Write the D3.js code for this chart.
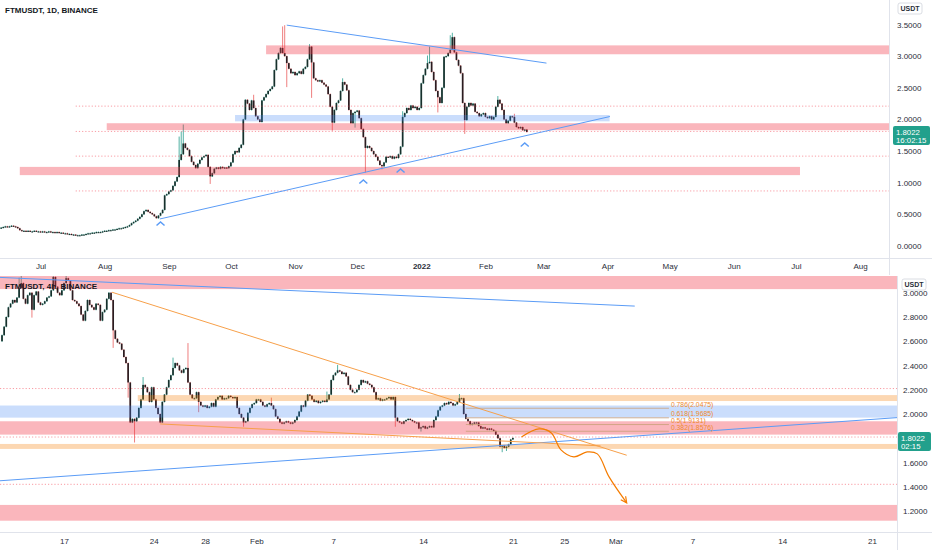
<!DOCTYPE html>
<html>
<head>
<meta charset="utf-8">
<script src="https://cdn.jsdelivr.net/npm/d3@7"></script>
<style>
body{margin:0;background:#fff;}
text{font-family:"Liberation Sans",Arial,sans-serif;}
</style>
</head>
<body>
<svg id="chart" width="932" height="550"></svg>
<script>
// ---- daily candles (top) ----
var dailyStart = "2021-06-11";
var dailyFirstOpen = 0.27;
var dailyClose = [
0.28,0.29,0.30,0.31,0.30,0.31,0.32,0.31,0.30,0.28,
0.25,0.24,0.24,0.23,0.24,0.23,0.23,0.24,0.23,0.23,
0.22,0.23,0.22,0.22,0.23,0.22,0.22,0.21,0.22,0.21,
0.21,0.20,0.20,0.19,0.19,0.18,0.18,0.17,0.17,0.17,
0.18,0.18,0.19,0.20,0.20,0.21,0.21,0.22,0.22,0.22,
0.23,0.24,0.24,0.25,0.25,0.26,0.26,0.27,0.28,0.28,
0.29,0.30,0.31,0.33,0.36,0.38,0.40,0.43,0.46,0.50,
0.55,0.57,0.54,0.52,0.50,0.47,0.44,0.48,0.52,0.57,
0.80,0.82,0.86,0.88,0.95,1.02,1.09,1.36,1.45,1.62,
1.55,1.52,1.42,1.33,1.28,1.23,1.30,1.36,1.40,1.42,
1.44,1.25,1.10,1.15,1.22,1.24,1.22,1.25,1.23,1.24,
1.23,1.26,1.32,1.45,1.50,1.48,1.55,1.60,2.00,2.31,
2.25,2.15,2.30,2.18,2.05,2.00,1.96,2.30,2.35,2.40,
2.45,2.48,2.52,2.78,2.95,3.05,3.13,3.05,3.00,2.89,
2.80,2.73,2.75,2.70,2.73,2.76,2.72,2.80,2.83,2.95,
3.15,2.90,2.65,2.62,2.60,2.62,2.58,2.55,2.52,2.40,
2.20,1.95,2.15,2.26,2.30,2.45,2.59,2.55,2.46,2.15,
1.94,2.10,2.12,2.14,2.02,1.85,1.72,1.55,1.58,1.55,
1.50,1.45,1.41,1.35,1.28,1.26,1.32,1.41,1.40,1.42,
1.38,1.41,1.39,1.45,1.57,2.04,2.10,2.18,2.15,2.22,
2.18,2.20,2.15,2.18,2.57,2.70,2.80,2.89,2.91,2.75,
2.62,2.45,2.35,2.26,2.50,2.99,3.00,3.05,3.10,3.30,
3.06,2.94,2.85,2.73,2.26,1.99,2.20,2.26,2.22,2.25,
2.12,2.10,2.05,2.08,2.10,2.04,2.02,2.05,2.00,2.04,
2.20,2.31,2.25,2.15,2.00,1.94,1.98,2.05,2.04,1.95,
1.88,1.86,1.88,1.83,1.84,1.8022];
var dailyHighs = [[87,1.72],[88,1.80],[89,1.91],[123,2.38],[137,3.46],[138,3.48],[150,3.18],
  [166,2.64],[195,2.12],[207,3.00],[208,3.14],[218,3.32],[219,3.36],[241,2.36],[249,2.08]];
var dailyLows = [[102,0.99],[139,2.52],[151,2.35],[161,1.83],[172,1.88],[177,1.17],[185,1.22],
  [212,2.12],[225,1.78]];

// ---- 4h candles (bottom) ----
var h4Start = "2022-01-12T04:00";
var h4FirstOpen = 2.60;
var h4Close = [
2.65,2.72,2.80,2.88,2.91, 2.94,2.92,2.96,3.04,3.08, 2.95,2.91,2.98,3.00,2.86, 2.98,3.01,2.92,2.90,2.91,
2.93,2.96,2.97,3.02,3.13, 3.05,3.00,2.98,3.02,3.08, 3.12,3.10,3.02,2.94,2.93, 2.91,2.89,2.82,2.77,2.85,
2.94,2.90,2.88,2.86,2.91, 2.90,2.77,2.84,2.86,2.95, 3.00,2.94,2.69,2.62,2.59, 2.58,2.53,2.47,2.42,2.26,
1.93,1.96,1.94,1.97,2.05, 2.12,2.24,2.22,2.18,2.10, 2.22,2.12,2.05,2.00,1.93, 2.10,2.16,2.22,2.28,2.32,
2.38,2.42,2.40,2.36,2.34, 2.37,2.38,2.26,2.16,2.13, 2.13,2.18,2.10,2.07,2.06, 2.07,2.05,2.06,2.09,2.06,
2.12,2.14,2.15,2.12,2.13, 2.13,2.15,2.14,2.13,2.14, 2.05,2.00,1.97,1.93,1.94, 2.01,2.05,2.08,2.09,2.12,
2.12,2.10,2.07,2.06,2.08, 2.09,2.07,2.04,1.98,1.96, 1.93,1.92,1.93,1.94,1.93, 1.92,1.93,1.95,1.98,2.02,
2.07,2.06,2.11,2.16,2.15, 2.12,2.10,2.11,2.09,2.10, 2.11,2.10,2.12,2.16,2.28, 2.32,2.34,2.36,2.35,2.33,
2.34,2.31,2.24,2.20,2.18, 2.18,2.20,2.24,2.28,2.26, 2.27,2.25,2.24,2.22,2.18, 2.12,2.13,2.11,2.12,2.12,
2.13,2.14,2.12,2.14,1.97, 1.94,1.93,1.92,1.94,1.95, 1.96,1.95,1.94,1.93,1.93, 1.88,1.89,1.90,1.88,1.89,
1.90,1.89,1.95,1.98,2.03, 2.06,2.07,2.09,2.08,2.10, 2.09,2.07,2.08,2.10,2.13, 2.13,2.00,1.96,1.94,1.91,
1.92,1.93,1.93,1.90,1.88, 1.89,1.88,1.87,1.88,1.87, 1.86,1.83,1.80,1.73,1.74, 1.72,1.73,1.75,1.79,1.8022];
var h4Highs = [[8,3.12],[9,3.14],[24,3.16],[30,3.18],[66,2.30],[80,2.46],[87,2.58],[126,2.13],
  [152,2.18],[157,2.40],[214,2.16]];
var h4Lows = [[14,2.80],[52,2.55],[59,2.14],[62,1.77],[92,2.02],[113,1.90],[184,1.90],[196,1.86],
  [234,1.69],[236,1.70]];

// ---- zones and levels (shared by both panels) ----
var bandFrom = ["2021-10-18","2021-08-02","2021-10-03","2021-06-21"];
var bandTo   = [null,        null,        "2022-04-02","2022-07-03"];
var bandLow  = [3.03, 1.83, 1.97, 1.12];
var bandHigh = [3.17, 1.94, 2.07, 1.25];
var bandKind = ["red","red","blue","red"];
var dottedFrom = "2021-07-18";
var dottedLevels = [2.21, 1.81, 1.42, 0.87];
var peachFrom = ["2022-01-22T18:00", null];
var peachLow  = [2.107, 1.712];
var peachHigh = [2.156, 1.753];

// trend lines [date, price]
var blueLines = [
  [["2021-10-28", 3.49], ["2022-03-02T12:00", 2.89]],
  [["2021-08-27T16:00", 0.427], ["2022-04-02T04:00", 2.046]]
];
var orangeLines = [
  [["2022-01-20T18:00", 3.004], ["2022-03-01T21:00", 1.66]],
  [["2022-01-24T12:00", 1.918], ["2022-02-27T20:00", 1.737]]
];
var markerDates = ["2021-08-28","2021-12-04","2021-12-22","2022-02-20"];
var markerPrices = [0.379, 1.043, 1.217, 1.627];

var fibLevels = [0.786, 0.618, 0.5, 0.382];
var fibPrices = [2.0475, 1.9685, 1.9131, 1.8576];
var fibStart = "2022-02-17T08:00", fibEnd = "2022-03-05T04:00";

var arrowTimes = ["2022-02-21T16:00","2022-02-23T01:00","2022-02-24T00:00","2022-02-24T18:00",
  "2022-02-25T18:00","2022-02-26T19:00","2022-02-27T14:00","2022-02-28T12:00","2022-03-01T21:00"];
var arrowPrices = [1.811, 1.877, 1.844, 1.704, 1.646, 1.687, 1.671, 1.481, 1.267];

var topTicks = [0, 0.5, 1, 1.5, 2, 2.5, 3, 3.5];
var botTicks = [1.2, 1.4, 1.6, 2.0, 2.2, 2.4, 2.6, 2.8, 3.0];
var topTimeTicks = ["2021-07-01","2021-08-01","2021-09-01","2021-10-01","2021-11-01","2021-12-01",
  "2022-01-01","2022-02-01","2022-03-01","2022-04-01","2022-05-01","2022-06-01","2022-07-01","2022-08-01"];
var topTimeLabels = ["Jul","Aug","Sep","Oct","Nov","Dec","2022","Feb","Mar","Apr","May","Jun","Jul","Aug"];
var botTimeTicks = ["2022-01-17","2022-01-24","2022-01-28","2022-02-01","2022-02-07","2022-02-14",
  "2022-02-21","2022-02-25","2022-03-01","2022-03-07","2022-03-14","2022-03-21"];
var botTimeLabels = ["17","24","28","Feb","7","14","21","25","Mar","7","14","21"];

var lastPrice = 1.8022;

// ---- helpers ----
var parseDay = d3.utcParse("%Y-%m-%d");
var parseTime = d3.utcParse("%Y-%m-%dT%H:%M");
function toDate(s){ return s.length > 10 ? parseTime(s) : parseDay(s); }

function buildCandles(closes, firstOpen, dateOf, highs, lows){
  var hi = new Map(highs), lo = new Map(lows);
  return closes.map(function(c, i){
    var o = i ? closes[i-1] : firstOpen;
    return {
      date: dateOf(i), o: o, c: c,
      h: hi.has(i) ? Math.max(hi.get(i), o, c) : Math.max(o, c),
      l: lo.has(i) ? Math.min(lo.get(i), o, c) : Math.min(o, c)
    };
  });
}

var daily = buildCandles(dailyClose, dailyFirstOpen,
  function(i){ return d3.utcDay.offset(toDate(dailyStart), i); }, dailyHighs, dailyLows);
var h4 = buildCandles(h4Close, h4FirstOpen,
  function(i){ return d3.utcHour.offset(toDate(h4Start), 4*i); }, h4Highs, h4Lows);

var svg = d3.select("#chart");
svg.append("rect").attr("width", 932).attr("height", 550).attr("fill", "#fff");

var panelTop = {
  x: d3.scaleUtc().domain([toDate("2021-07-01"), toDate("2022-08-01")]).range([40.5, 860]),
  y: d3.scaleLinear().domain([0, 3.5]).range([246, 24.5]),
  x0: 0, x1: 889, y0: 0, y1: 258, clip: "clipTop"
};
var panelBot = {
  x: d3.scaleUtc().domain([toDate("2022-01-17"), toDate("2022-03-21")]).range([64, 872]),
  y: d3.scaleLinear().domain([1.2, 2.8]).range([511, 317]),
  x0: 0, x1: 897, y0: 276, y1: 532, clip: "clipBot"
};

var defs = svg.append("defs");
[panelTop, panelBot].forEach(function(p){
  defs.append("clipPath").attr("id", p.clip).append("rect")
    .attr("x", p.x0).attr("y", p.y0).attr("width", p.x1 - p.x0).attr("height", p.y1 - p.y0);
});
defs.append("marker").attr("id", "arrowHead")
  .attr("viewBox", "0 0 8 8").attr("refX", 7).attr("refY", 4)
  .attr("markerWidth", 8).attr("markerHeight", 8).attr("markerUnits", "userSpaceOnUse")
  .attr("orient", "auto")
  .append("path").attr("d", "M1,1 L7,4 L1,7").attr("fill", "none")
  .attr("stroke", "#f57c00").attr("stroke-width", 1.2);

var bandColor = {red: "rgba(242,54,69,0.36)", blue: "rgba(66,133,244,0.28)"};

function drawCandles(g, data, p, w){
  g.selectAll("line.wick").data(data).enter().append("line")
    .attr("class", "wick")
    .attr("x1", function(d){ return p.x(d.date); })
    .attr("x2", function(d){ return p.x(d.date); })
    .attr("y1", function(d){ return p.y(d.h) - 0.6; })
    .attr("y2", function(d){ return p.y(d.l) + 0.6; })
    .attr("stroke", function(d){ return d.c >= d.o ? "#3fa89a" : "#ec7070"; })
    .attr("stroke-width", 0.9);
  g.selectAll("rect.body").data(data).enter().append("rect")
    .attr("class", "body")
    .attr("x", function(d){ return p.x(d.date) - w/2; })
    .attr("width", w)
    .attr("y", function(d){ return p.y(Math.max(d.o, d.c)); })
    .attr("height", function(d){ return Math.max(1.1, Math.abs(p.y(d.o) - p.y(d.c))); })
    .attr("fill", function(d){ return d.c >= d.o ? "#17302c" : "#2a1d21"; });
}

function drawZones(g, p){
  bandLow.forEach(function(lo, k){
    var xs = Math.max(p.x0, p.x(toDate(bandFrom[k])));
    var xe = bandTo[k] ? Math.min(p.x1, p.x(toDate(bandTo[k]))) : p.x1;
    g.append("rect").attr("x", xs).attr("width", Math.max(0, xe - xs))
      .attr("y", p.y(bandHigh[k])).attr("height", p.y(lo) - p.y(bandHigh[k]))
      .attr("fill", bandColor[bandKind[k]]);
  });
  dottedLevels.forEach(function(v){
    g.append("line").attr("x1", Math.max(p.x0, p.x(toDate(dottedFrom)))).attr("x2", p.x1)
      .attr("y1", p.y(v)).attr("y2", p.y(v))
      .attr("stroke", "#f23645").attr("stroke-opacity", 0.7)
      .attr("stroke-width", 0.7).attr("stroke-dasharray", "1.2,2");
  });
}

function drawLines(g, p, lines, color, width){
  lines.forEach(function(l){
    g.append("line")
      .attr("x1", p.x(toDate(l[0][0]))).attr("y1", p.y(l[0][1]))
      .attr("x2", p.x(toDate(l[1][0]))).attr("y2", p.y(l[1][1]))
      .attr("stroke", color).attr("stroke-width", width);
  });
}

// ---- top panel ----
var gT = svg.append("g").attr("clip-path", "url(#clipTop)");
drawCandles(gT, daily, panelTop, 1.7);
drawZones(gT, panelTop);
drawLines(gT, panelTop, blueLines, "#5b9cf6", 1);
markerDates.forEach(function(d, k){
  var cx = panelTop.x(toDate(d)), cy = panelTop.y(markerPrices[k]);
  gT.append("path").attr("d", "M" + (cx-4) + "," + (cy+3.5) + "L" + cx + "," + cy + "L" + (cx+4) + "," + (cy+3.5))
    .attr("fill", "none").attr("stroke", "#5b9cf6").attr("stroke-width", 1.5);
});

// ---- bottom panel ----
var gB = svg.append("g").attr("clip-path", "url(#clipBot)");
drawCandles(gB, h4, panelBot, 1.7);
peachLow.forEach(function(lo, k){
  var xs = peachFrom[k] ? panelBot.x(toDate(peachFrom[k])) : panelBot.x0;
  gB.append("rect").attr("x", xs).attr("width", panelBot.x1 - xs)
    .attr("y", panelBot.y(peachHigh[k])).attr("height", panelBot.y(lo) - panelBot.y(peachHigh[k]))
    .attr("fill", "rgba(245,124,0,0.3)");
});
drawZones(gB, panelBot);
drawLines(gB, panelBot, blueLines, "#5b9cf6", 1);
drawLines(gB, panelBot, orangeLines, "#f7a04a", 1);
fibPrices.forEach(function(v, k){
  gB.append("line")
    .attr("x1", panelBot.x(toDate(fibStart))).attr("x2", panelBot.x(toDate(fibEnd)))
    .attr("y1", panelBot.y(v)).attr("y2", panelBot.y(v))
    .attr("stroke", "#c9a07a").attr("stroke-width", 0.8);
  gB.append("text").attr("x", panelBot.x(toDate(fibEnd)) + 2).attr("y", panelBot.y(v) - 1.5)
    .attr("font-size", 6.8).attr("fill", "#ef8a2c")
    .text(fibLevels[k] + "(" + v.toFixed(4) + ")");
});
var arrowPts = arrowTimes.map(function(t, k){ return [panelBot.x(toDate(t)), panelBot.y(arrowPrices[k])]; });
gB.append("path").attr("d", d3.line().curve(d3.curveCatmullRom)(arrowPts))
  .attr("fill", "none").attr("stroke", "#f57c00").attr("stroke-width", 1.2)
  .attr("marker-end", "url(#arrowHead)");

// ---- frames ----
svg.append("line").attr("x1", 0).attr("x2", 932).attr("y1", 258.5).attr("y2", 258.5).attr("stroke", "#e0e3eb");
svg.append("line").attr("x1", 889.5).attr("x2", 889.5).attr("y1", 0).attr("y2", 275).attr("stroke", "#e0e3eb");
svg.append("line").attr("x1", 0).attr("x2", 932).attr("y1", 532.5).attr("y2", 532.5).attr("stroke", "#e0e3eb");
svg.append("line").attr("x1", 897.5).attr("x2", 897.5).attr("y1", 276).attr("y2", 550).attr("stroke", "#e0e3eb");

// ---- axes ----
function priceAxis(scale, ticks, xPos){
  svg.append("g").attr("transform", "translate(" + xPos + ",0)")
    .call(d3.axisRight(scale).tickValues(ticks).tickFormat(d3.format(".4f")).tickSize(0).tickPadding(0))
    .call(function(g){ g.select(".domain").remove(); })
    .attr("font-size", 8).attr("font-family", "Liberation Sans, Arial, sans-serif").attr("color", "#2a2e39");
}
priceAxis(panelTop.y, topTicks, 897);
priceAxis(panelBot.y, botTicks, 903);

function timeAxis(scale, ticks, labels, yPos){
  var g = svg.append("g").attr("transform", "translate(0," + yPos + ")")
    .call(d3.axisBottom(scale).tickValues(ticks.map(toDate))
      .tickFormat(function(d, i){ return labels[i]; }).tickSize(0).tickPadding(0))
    .call(function(g){ g.select(".domain").remove(); })
    .attr("font-size", 8).attr("font-family", "Liberation Sans Narrow, DejaVu Sans Condensed, sans-serif")
    .attr("color", "#2a2e39");
  g.selectAll("text").attr("font-weight", function(d, i){ return labels[i] === "2022" ? "bold" : null; });
}
timeAxis(panelTop.x, topTimeTicks, topTimeLabels, 263);
timeAxis(panelBot.x, botTimeTicks, botTimeLabels, 538);

// ---- unit boxes ----
function unitBox(x, y){
  svg.append("rect").attr("x", x).attr("y", y).attr("width", 24).attr("height", 11).attr("rx", 2)
    .attr("fill", "#fff").attr("stroke", "#d1d4dc").attr("stroke-width", 0.8);
  svg.append("text").attr("x", x + 12).attr("y", y + 8.2).attr("text-anchor", "middle")
    .attr("font-size", 7).attr("font-weight", "bold").attr("fill", "#2a2e39").text("USDT");
}
unitBox(898, 3);
unitBox(902, 279);

// ---- last price labels ----
function priceTag(x, y, w, timer){
  svg.append("rect").attr("x", x).attr("y", y - 6).attr("width", w).attr("height", 19).attr("rx", 2)
    .attr("fill", "#22a08c");
  svg.append("text").attr("x", x + 3).attr("y", y + 2.8).attr("font-size", 7.8).attr("fill", "#fff")
    .text(lastPrice.toFixed(4));
  svg.append("text").attr("x", x + 3).attr("y", y + 11).attr("font-size", 7.8).attr("fill", "#fff")
    .text(timer);
}
priceTag(893, panelTop.y(lastPrice), 37, "16:02:15");
priceTag(898, panelBot.y(lastPrice), 33, "02:15");

// ---- titles ----
svg.append("text").attr("x", 5).attr("y", 13).attr("font-size", 8).attr("font-weight", "bold")
  .attr("fill", "#131722").text("FTMUSDT, 1D, BINANCE");
svg.append("text").attr("x", 5).attr("y", 289).attr("font-size", 8).attr("font-weight", "bold")
  .attr("fill", "#131722").text("FTMUSDT, 4h, BINANCE");
</script>
</body>
</html>
